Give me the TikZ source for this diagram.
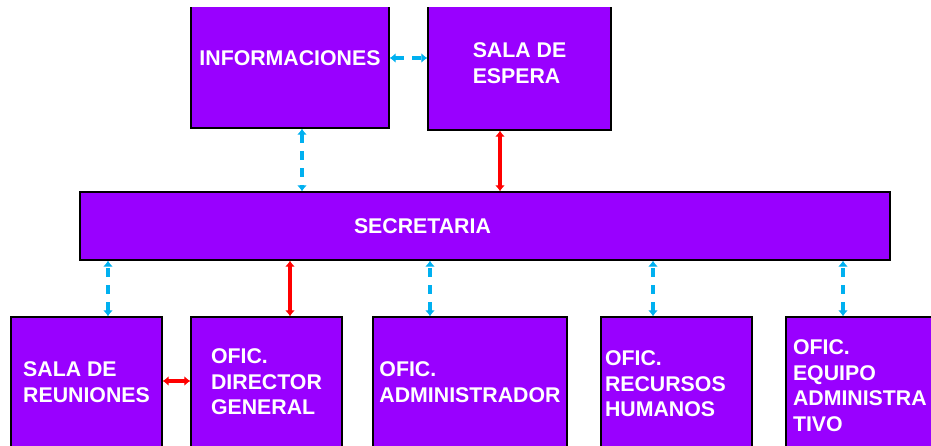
\documentclass[tikz,border=0pt]{standalone}
\usepackage{fontspec}
\setmainfont{Liberation Sans}
\usetikzlibrary{arrows.meta}
\definecolor{boxpurple}{RGB}{153,0,255}
\definecolor{linkblue}{RGB}{0,176,240}
\hyphenpenalty=10000
\tikzset{
  box/.style={draw=black, line width=1.4pt, fill=boxpurple, text=white,
    font=\fontsize{21.3}{25.5}\selectfont\bfseries, align=left},
  bluelink/.style={linkblue, line width=3.4pt, dash pattern=on 9pt off 8pt,
    {Latex[length=6pt,width=10pt]}-{Latex[length=6pt,width=10pt]}},
  redlink/.style={red, line width=3.4pt,
    {Latex[length=6pt,width=10pt]}-{Latex[length=6pt,width=10pt]}}
}
\begin{document}
\begin{tikzpicture}[x=1pt,y=-1pt]
  \useasboundingbox (0,0) rectangle (931,446);
  \clip (0,8) rectangle (931,446);
  % Top row
  \node[box, minimum width=198pt, minimum height=140pt] (info) at (290,58) {INFORMACIONES};
  \node[box, minimum width=183pt, minimum height=134pt] (espera) at (519.5,63) {SALA DE\\ESPERA};
  % Secretaria
  \node[box, minimum width=810pt, minimum height=68pt, text width=262pt] (secr) at (485,226) {SECRETARIA};
  % Bottom row
  \node[box, minimum width=151pt, minimum height=130pt] (reuniones) at (86.5,382) {SALA DE\\REUNIONES};
  \node[box, minimum width=151pt, minimum height=130pt] (director) at (266.5,382) {OFIC.\\DIRECTOR\\GENERAL};
  \node[box, minimum width=194pt, minimum height=130pt] (admin) at (470,382) {OFIC.\\ADMINISTRADOR};
  \node[box, minimum width=151pt, minimum height=134pt, text width=143pt] (rrhh) at (676.5,384) {OFIC.\\RECURSOS\\HUMANOS};
  \node[box, minimum width=159pt, minimum height=137pt, text width=145pt] (equipo) at (865.5,385.5) {OFIC.\\EQUIPO\\ADMINISTRA\\TIVO};
  % Links
  \draw[bluelink] (info.east) -- (info.east -| espera.west);
  \draw[bluelink] ([xshift=12pt]info.south) -- ([xshift=12pt]info.south |- secr.north);
  \draw[redlink] ([xshift=-19.5pt]espera.south) -- ([xshift=-19.5pt]espera.south |- secr.north);
  \draw[bluelink] ([xshift=21.5pt]reuniones.north) -- ([xshift=21.5pt]reuniones.north |- secr.south);
  \draw[redlink] ([xshift=23.5pt]director.north) -- ([xshift=23.5pt]director.north |- secr.south);
  \draw[bluelink] ([xshift=-40pt]admin.north) -- ([xshift=-40pt]admin.north |- secr.south);
  \draw[bluelink] ([xshift=-23.5pt]rrhh.north) -- ([xshift=-23.5pt]rrhh.north |- secr.south);
  \draw[bluelink] ([xshift=-22.5pt]equipo.north) -- ([xshift=-22.5pt]equipo.north |- secr.south);
  \draw[redlink] ([yshift=1pt]reuniones.east) -- ([yshift=1pt]reuniones.east -| director.west);
\end{tikzpicture}
\end{document}
